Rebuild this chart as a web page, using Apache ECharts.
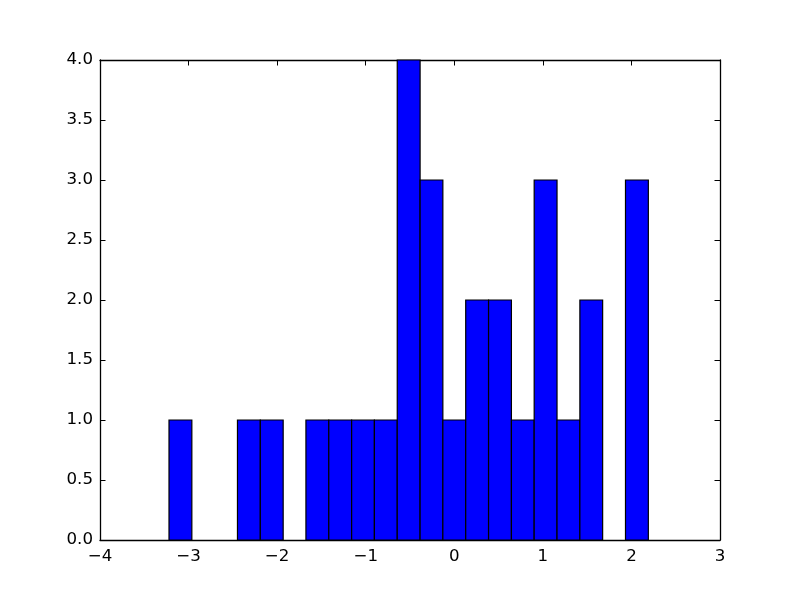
<!DOCTYPE html>
<html>
<head>
<meta charset="utf-8">
<script src="https://cdn.jsdelivr.net/npm/echarts@6/dist/echarts.min.js"></script>
<style>html,body{margin:0;padding:0;background:#fff;}#c{width:800px;height:600px;}</style>
</head>
<body>
<div id="c"></div>
<script>
// Histogram bin edges (22 edges -> 21 bins) and counts
var binEdges = [-3.221, -2.963, -2.706, -2.448, -2.190, -1.932, -1.675, -1.417, -1.159, -0.902, -0.644,
                -0.386, -0.129, 0.129, 0.387, 0.645, 0.902, 1.160, 1.418, 1.675, 1.933, 2.191];
var counts = [1, 0, 0, 1, 1, 0, 1, 1, 1, 1, 4, 3, 1, 2, 2, 1, 3, 1, 2, 0, 3];
var xTicks = [-4, -3, -2, -1, 0, 1, 2, 3];
var yTicks = [0.0, 0.5, 1.0, 1.5, 2.0, 2.5, 3.0, 3.5, 4.0];

var data = [];
for (var i = 0; i < counts.length; i++) {
  if (counts[i] > 0) data.push([binEdges[i], binEdges[i + 1], counts[i]]);
}

var font = {fontFamily: 'DejaVu Sans', fontSize: 16.67, color: '#000'};
var lineStyle = {color: '#000', width: 1.3};

function fmtX(v) { return String(v).replace('-', '\u2212'); }
function fmtY(v) { return Number(v).toFixed(1); }

var chart = echarts.init(document.getElementById('c'), null, {renderer: 'canvas'});
chart.setOption({
  animation: false,
  backgroundColor: '#fff',
  grid: {left: 100, right: 80, top: 60, bottom: 60, containLabel: false},
  xAxis: [
    {type: 'value', min: xTicks[0], max: xTicks[xTicks.length - 1], interval: 1, position: 'bottom',
     axisLine: {show: true, onZero: false, lineStyle: lineStyle},
     axisTick: {show: true, inside: true, length: 5.5, lineStyle: {color: '#000', width: 1}},
     axisLabel: Object.assign({formatter: fmtX, margin: 8}, font),
     splitLine: {show: false}},
    {type: 'value', min: xTicks[0], max: xTicks[xTicks.length - 1], interval: 1, position: 'top',
     axisLine: {show: true, onZero: false, lineStyle: lineStyle},
     axisTick: {show: true, inside: true, length: 5.5, lineStyle: {color: '#000', width: 1}},
     axisLabel: {show: false}, splitLine: {show: false}}
  ],
  yAxis: [
    {type: 'value', min: yTicks[0], max: yTicks[yTicks.length - 1], interval: 0.5, position: 'left',
     axisLine: {show: true, onZero: false, lineStyle: lineStyle},
     axisTick: {show: true, inside: true, length: 5.5, lineStyle: {color: '#000', width: 1}},
     axisLabel: Object.assign({formatter: fmtY, margin: 7}, font),
     splitLine: {show: false}},
    {type: 'value', min: yTicks[0], max: yTicks[yTicks.length - 1], interval: 0.5, position: 'right',
     axisLine: {show: true, onZero: false, lineStyle: lineStyle},
     axisTick: {show: true, inside: true, length: 5.5, lineStyle: {color: '#000', width: 1}},
     axisLabel: {show: false}, splitLine: {show: false}}
  ],
  series: [{
    type: 'custom',
    xAxisIndex: 0, yAxisIndex: 0,
    data: data,
    encode: {x: [0, 1], y: 2},
    renderItem: function (params, api) {
      var p0 = api.coord([api.value(0), api.value(2)]);
      var p1 = api.coord([api.value(1), 0]);
      return {
        type: 'rect',
        shape: {x: p0[0], y: p0[1], width: p1[0] - p0[0], height: p1[1] - p0[1]},
        style: {fill: '#0000ff', stroke: '#000', lineWidth: 1.2}
      };
    }
  }]
});
</script>
</body>
</html>
